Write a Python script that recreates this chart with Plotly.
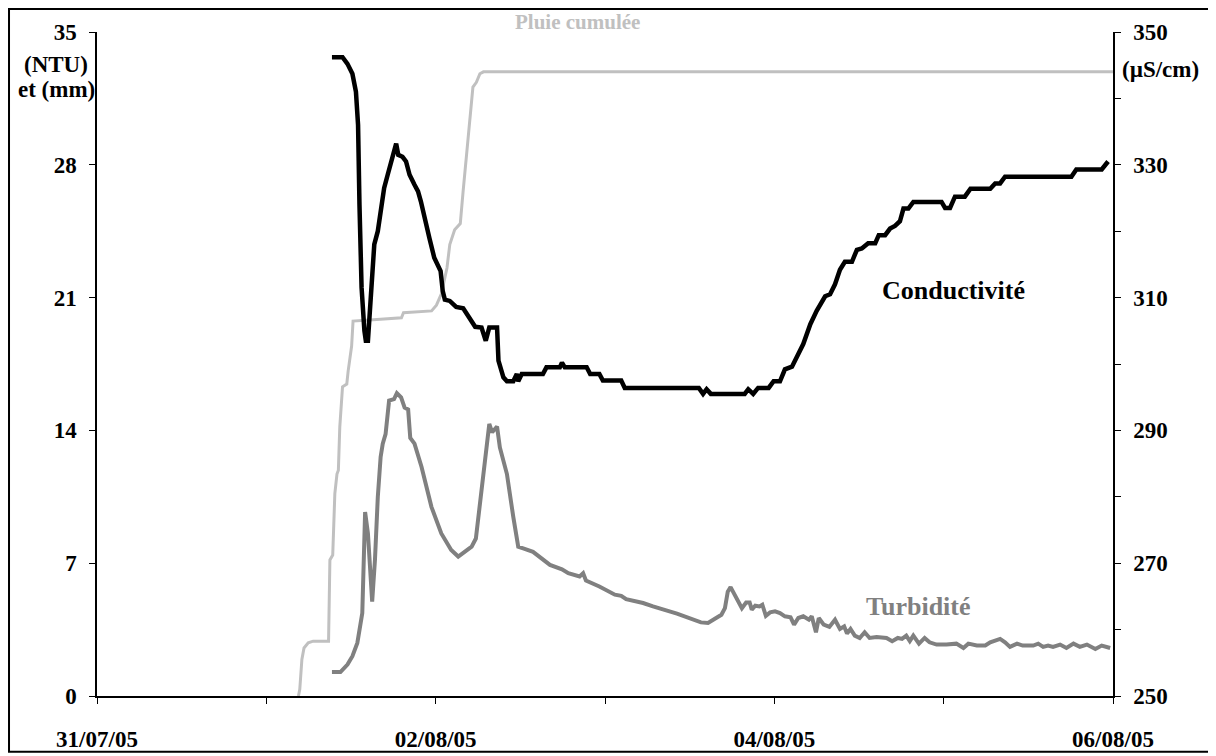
import pandas as pd
import plotly.graph_objects as go

# Time origin and offsets (hours after 31/07/05 00:00)
start = pd.Timestamp("2005-07-31 00:00")

pluie_h = [28.55, 28.74, 29.04, 29.34, 29.94, 30.63, 32.82, 32.92, 33.01, 33.41, 33.71, 34.01,
           34.21, 34.41, 34.8, 35.4, 35.6, 36.09, 36.29, 39.67, 43.15, 43.44, 47.42, 48.11,
           48.81, 49.6, 50.0, 50.69, 51.49, 51.89, 52.38, 52.88, 53.28, 53.77, 54.27, 54.77,
           144.0]
pluie_mm = [0.0, 0.35, 1.93, 2.53, 2.8, 2.89, 2.89, 4.37, 7.17, 7.43, 10.67, 11.7, 11.9, 14.17,
            16.3, 16.44, 17.14, 18.45, 19.76, 19.85, 19.94, 20.2, 20.3, 20.6, 21.2, 22.56, 23.8,
            24.57, 24.9, 26.6, 28.7, 30.6, 32.1, 32.35, 32.8, 32.9, 32.9]

cond_h = [33.3, 34.8, 35.5, 36.2, 36.7, 37.0, 37.2, 37.5, 37.9, 38.1, 38.4, 38.8, 39.3, 39.8,
          40.2, 40.7, 41.2, 41.9, 42.4, 42.7, 43.3, 43.8, 44.3, 45.0, 45.5, 45.9, 46.4, 47.1,
          47.8, 48.3, 48.7, 49.0, 49.3, 50.0, 50.9, 51.9, 52.8, 53.6, 54.5, 55.1, 55.6, 56.7,
          56.9, 57.6, 58.1, 59.0, 59.5, 59.7, 60.2, 63.2, 63.7, 65.6, 65.9, 66.3, 69.4, 69.9,
          71.2, 71.7, 74.3, 74.8, 85.3, 85.9, 86.4, 87.0, 91.8, 92.3, 93.0, 93.7, 95.2, 95.9,
          96.8, 97.5, 98.5, 99.7, 100.1, 101.1, 102.0, 103.2, 103.9, 104.6, 105.3, 106.0,
          107.0, 107.7, 108.4, 109.3, 110.3, 110.8, 111.7, 112.4, 113.1, 113.8, 114.3, 115.0,
          115.7, 119.7, 120.2, 120.9, 121.6, 123.0, 123.8, 126.6, 127.3, 128.0, 128.7, 138.1,
          138.8, 142.4, 143.3]
cond_us = [346.2, 346.2, 345.2, 343.7, 341.0, 336.0, 324.0, 311.5, 305.0, 303.5, 303.5, 309.5,
           318.0, 320.0, 323.0, 326.5, 328.5, 331.0, 333.2, 331.5, 331.2, 330.5, 328.5, 327.0,
           326.0, 324.5, 322.0, 319.0, 316.0, 314.7, 314.0, 311.0, 309.7, 309.5, 308.6, 308.4,
           307.0, 305.6, 305.5, 303.5, 305.5, 305.5, 300.5, 298.0, 297.4, 297.4, 298.5, 297.4,
           298.5, 298.5, 299.5, 299.5, 300.2, 299.5, 299.5, 298.5, 298.5, 297.5, 297.5, 296.4,
           296.4, 295.5, 296.2, 295.5, 295.5, 296.2, 295.5, 296.4, 296.4, 297.4, 297.4, 299.2,
           299.6, 302.0, 303.0, 306.0, 308.0, 310.2, 310.5, 312.0, 314.2, 315.4, 315.4, 317.2,
           317.4, 318.2, 318.2, 319.4, 319.4, 320.4, 320.8, 321.5, 323.4, 323.4, 324.4, 324.4,
           323.5, 323.5, 325.2, 325.2, 326.4, 326.4, 327.2, 327.2, 328.2, 328.2, 329.3, 329.3,
           330.5]

turb_h = [33.3, 34.5, 35.5, 36.2, 36.9, 37.4, 37.6, 38.0, 38.4, 39.0, 39.4, 39.8, 40.2, 40.5,
          40.9, 41.4, 42.1, 42.5, 43.1, 43.6, 44.1, 44.4, 45.0, 46.0, 47.4, 48.8, 50.2, 51.2,
          52.1, 53.1, 53.7, 54.5, 55.6, 56.0, 56.7, 57.1, 58.1, 59.0, 59.7, 60.4, 61.8, 64.2,
          65.9, 66.8, 68.4, 68.9, 69.3, 71.2, 73.4, 74.3, 75.0, 77.4, 78.8, 82.2, 84.4, 85.6,
          86.6, 87.8, 88.5, 89.0, 89.4, 89.8, 90.4, 91.4, 92.0, 92.5, 92.8, 93.3, 93.9, 94.3,
          94.8, 95.4, 96.1, 96.8, 97.5, 98.3, 98.8, 99.4, 100.1, 100.9, 101.3, 101.9, 102.3,
          103.0, 103.8, 104.6, 105.3, 105.9, 106.3, 106.8, 107.4, 108.1, 108.8, 109.5, 110.5,
          111.9, 112.7, 113.5, 114.1, 114.7, 115.2, 115.7, 116.5, 117.3, 118.0, 119.0, 120.4,
          121.8, 122.8, 123.5, 124.7, 125.9, 126.6, 128.0, 128.7, 129.4, 130.4, 131.2, 132.7,
          133.4, 134.1, 134.8, 135.5, 136.5, 137.4, 138.4, 139.3, 140.3, 141.5, 142.4, 143.6]
turb_ntu = [1.26, 1.26, 1.66, 2.1, 2.8, 3.85, 4.37, 9.7, 8.57, 4.98, 7.2, 10.5, 12.6, 13.3,
            13.8, 15.57, 15.65, 15.96, 15.74, 15.2, 15.1, 13.6, 13.3, 12.07, 9.97, 8.57, 7.7,
            7.35, 7.6, 7.87, 8.3, 11.0, 14.34, 13.9, 14.2, 13.1, 11.7, 9.44, 7.87, 7.78, 7.6,
            6.91, 6.68, 6.47, 6.3, 6.47, 6.09, 5.77, 5.34, 5.28, 5.1, 4.9, 4.72, 4.34, 4.06,
            3.88, 3.85, 4.16, 4.28, 4.63, 5.5, 5.74, 5.34, 4.63, 4.93, 4.93, 4.55, 4.76, 4.72,
            4.81, 4.23, 4.41, 4.46, 4.37, 4.2, 4.15, 3.76, 4.11, 4.2, 4.02, 4.2, 3.36, 4.11,
            3.76, 3.64, 4.02, 3.53, 3.67, 3.29, 3.53, 3.18, 3.06, 3.36, 3.06, 3.11, 3.06, 2.89,
            3.06, 3.01, 3.18, 2.89, 3.18, 2.76, 3.06, 2.83, 2.71, 2.71, 2.76, 2.53, 2.76, 2.66,
            2.66, 2.83, 3.01, 2.83, 2.59, 2.76, 2.66, 2.66, 2.76, 2.59, 2.66, 2.59, 2.71, 2.53,
            2.76, 2.59, 2.71, 2.48, 2.66, 2.53]

x_tick_days = ["2005-07-31", "2005-08-01", "2005-08-02", "2005-08-03",
               "2005-08-04", "2005-08-05", "2005-08-06"]
x_tick_text = ["31/07/05", "", "02/08/05", "", "04/08/05", "", "06/08/05"]
left_ticks = [0, 7, 14, 21, 28, 35]
right_ticks = [250, 270, 290, 310, 330, 350]


def to_time(hours):
    return [start + pd.Timedelta(hours=h) for h in hours]


FONT = "Liberation Serif"
tickfont = dict(family=FONT, size=23, color="black")

fig = go.Figure()
fig.add_trace(go.Scatter(x=to_time(pluie_h), y=pluie_mm, mode="lines", name="Pluie cumulée",
                         line=dict(color="#c0c0c0", width=3), yaxis="y"))
fig.add_trace(go.Scatter(x=to_time(turb_h), y=turb_ntu, mode="lines", name="Turbidité",
                         line=dict(color="#808080", width=4), yaxis="y"))
fig.add_trace(go.Scatter(x=to_time(cond_h), y=cond_us, mode="lines", name="Conductivité",
                         line=dict(color="#000000", width=4.5), yaxis="y2"))

axis_common = dict(ticks="outside", ticklen=6, tickcolor="black", tickwidth=1.2,
                   showline=True, linecolor="black", linewidth=1.5, showgrid=False,
                   zeroline=False, tickfont=tickfont)

fig.update_layout(
    width=1216, height=756,
    margin=dict(l=89, r=111, t=24, b=65),
    paper_bgcolor="white", plot_bgcolor="white",
    showlegend=False,
    font=dict(family=FONT, color="black"),
    xaxis=dict(
        type="date", range=[x_tick_days[0], x_tick_days[-1]],
        tickvals=x_tick_days, ticktext=["<b>%s</b>" % t if t else "" for t in x_tick_text],
        ticklabelstandoff=16, **axis_common,
    ),
    yaxis=dict(
        range=[0, 35], tickvals=left_ticks, ticktext=["<b>%d</b>" % v for v in left_ticks],
        ticklabelstandoff=8, **axis_common,
    ),
    yaxis2=dict(
        range=[250, 350], overlaying="y", side="right",
        tickvals=right_ticks, ticktext=["<b>%d</b>" % v for v in right_ticks],
        minor=dict(dtick=10, ticks="outside", ticklen=6, tickcolor="black", tickwidth=1.2,
                   showgrid=False),
        ticklabelstandoff=8, **axis_common,
    ),
    shapes=[dict(type="rect", xref="paper", yref="paper",
                 x0=-0.0866, x1=1.1004, y0=-0.084, y1=1.0345,
                 line=dict(color="black", width=2), fillcolor="rgba(0,0,0,0)")],
    annotations=[
        dict(text="<b>(NTU)</b>", xref="paper", yref="paper", x=-0.0069, y=0.9505,
             xanchor="right", yanchor="middle", showarrow=False, font=tickfont),
        dict(text="<b>et (mm)</b>", xref="paper", yref="paper", x=0.0, y=0.913,
             xanchor="right", yanchor="middle", showarrow=False, font=tickfont),
        dict(text="<b>(µS/cm)</b>", xref="paper", yref="paper", x=1.0069, y=0.943,
             xanchor="left", yanchor="middle", showarrow=False, font=tickfont),
        dict(text="<b>Pluie cumulée</b>", xref="paper", yref="paper", x=0.4734, y=1.034,
             xanchor="center", yanchor="top", showarrow=False, borderpad=0,
             font=dict(family=FONT, size=21, color="#c0c0c0")),
        dict(text="<b>Conductivité</b>", xref="paper", yref="paper", x=0.8435, y=0.61,
             xanchor="center", yanchor="middle", showarrow=False,
             font=dict(family=FONT, size=26, color="black")),
        dict(text="<b>Turbidité</b>", xref="paper", yref="paper", x=0.8081, y=0.135,
             xanchor="center", yanchor="middle", showarrow=False,
             font=dict(family=FONT, size=26, color="#808080")),
    ],
)

fig.write_html("out.html")
